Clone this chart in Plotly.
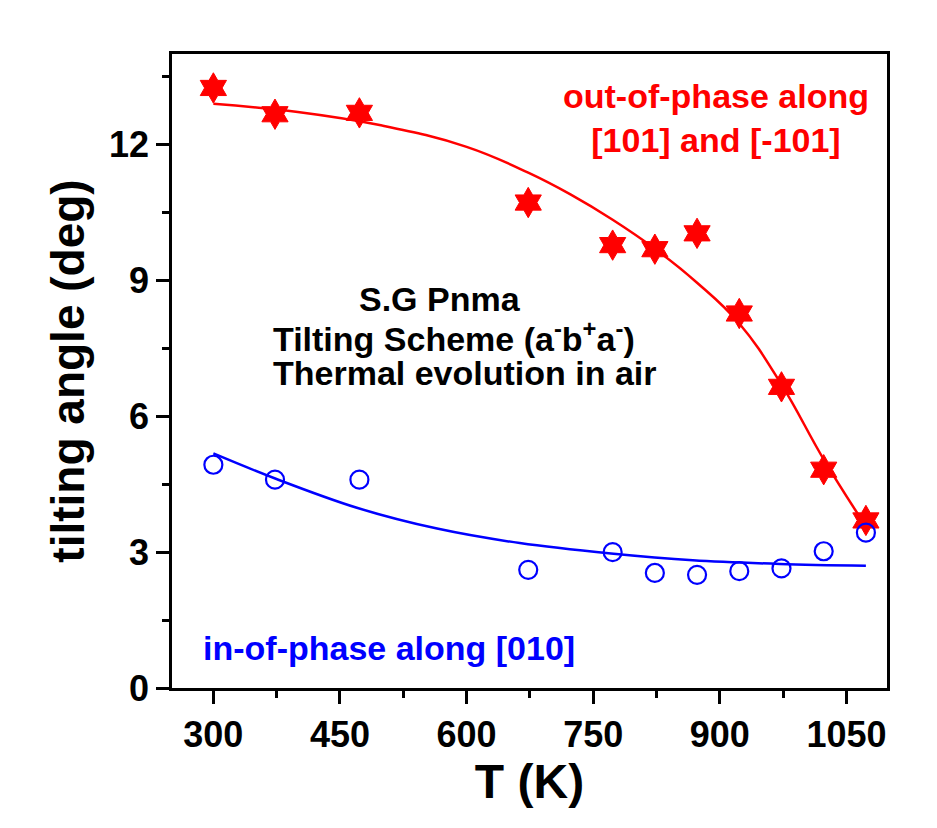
import plotly.graph_objects as go

# Data
T = [300, 373, 473, 673, 773, 823, 873, 923, 973, 1023, 1073]
out_of_phase = [13.25, 12.67, 12.70, 10.72, 9.78, 9.69, 10.04, 8.27, 6.65, 4.82, 3.70]
in_phase = [4.93, 4.60, 4.60, 2.61, 3.00, 2.54, 2.50, 2.58, 2.64, 3.02, 3.43]

red_fit_T = [300, 400, 500, 600, 673, 723, 773, 823, 873, 923, 973, 1023, 1073]
red_fit = [12.90, 12.72, 12.42, 11.95, 11.38, 10.90, 10.34, 9.70, 8.95, 8.05, 6.70, 5.05, 3.57]

blue_fit_T = [300, 374, 470, 565, 663, 771, 868, 971, 1073]
blue_fit = [5.18, 4.62, 3.98, 3.52, 3.20, 2.97, 2.82, 2.74, 2.70]

x_ticks = [300, 450, 600, 750, 900, 1050]
y_ticks = [0, 3, 6, 9, 12]

FONT = "Liberation Sans, Arial, sans-serif"
RED = "#ff0000"
BLUE = "#0000ff"

fig = go.Figure()
fig.add_trace(go.Scatter(x=red_fit_T, y=red_fit, mode="lines",
                         line=dict(color=RED, width=2.5, shape="spline", smoothing=1.2),
                         showlegend=False, hoverinfo="skip"))
fig.add_trace(go.Scatter(x=blue_fit_T, y=blue_fit, mode="lines", line=dict(color=BLUE, width=2.5, shape="spline"),
                         showlegend=False, hoverinfo="skip"))
fig.add_trace(go.Scatter(x=T, y=out_of_phase, mode="markers",
                         marker=dict(symbol="hexagram", size=23, color=RED, line=dict(color=RED, width=1)),
                         showlegend=False))
fig.add_trace(go.Scatter(x=T, y=in_phase, mode="markers",
                         marker=dict(symbol="circle-open", size=18, color=BLUE, line=dict(color=BLUE, width=2.2)),
                         showlegend=False))

axis_common = dict(showgrid=False, zeroline=False, showline=True, linecolor="black", linewidth=2.5,
                   mirror=True, ticks="outside", tickcolor="black", tickwidth=2.5, ticklen=13,
                   tickfont=dict(family=FONT, size=36, color="black", weight="bold"))

fig.update_xaxes(range=[251, 1098], tickvals=x_ticks, ticktext=[str(v) for v in x_ticks],
                 minor=dict(ticks="outside", ticklen=7, tickwidth=2.5, tickcolor="black", dtick=75, tick0=300),
                 title=dict(text="T (K)", font=dict(family=FONT, size=48, color="black", weight="bold"), standoff=2),
                 **axis_common)
fig.update_yaxes(range=[0, 14], tickvals=y_ticks, ticktext=[str(v) for v in y_ticks],
                 minor=dict(ticks="outside", ticklen=7, tickwidth=2.5, tickcolor="black", dtick=1.5, tick0=0),
                 title=dict(text="tilting angle (deg)", font=dict(family=FONT, size=46, color="black", weight="bold"), standoff=10),
                 **axis_common)

# pixel -> data helpers for placing the text labels
def tx(px):
    return 300 + (px - 213.3) / 0.8447

def ty(py):
    return (688 - py) / 45.24

ann_font = lambda c: dict(family=FONT, size=34, color=c, weight="bold")
fig.add_annotation(x=tx(716), y=ty(118.5), xref="x", yref="y", text="out-of-phase along<br>[101] and [-101]",
                   showarrow=False, align="center", font=ann_font(RED), xanchor="center", yanchor="middle")
fig.add_annotation(x=tx(440), y=ty(299), xref="x", yref="y", text="S.G Pnma",
                   showarrow=False, font=ann_font("black"), xanchor="center", yanchor="middle")
fig.add_annotation(x=tx(271), y=ty(337), xref="x", yref="y",
                   text="Tilting Scheme (a<sup>-</sup>b<sup>+</sup>a<sup>-</sup>)",
                   showarrow=False, font=ann_font("black"), xanchor="left", yanchor="middle")
fig.add_annotation(x=tx(271), y=ty(373), xref="x", yref="y",
                   text="Thermal evolution in air",
                   showarrow=False, font=ann_font("black"), xanchor="left", yanchor="middle")
fig.add_annotation(x=tx(201), y=ty(648), xref="x", yref="y",
                   text="in-of-phase along [010]",
                   showarrow=False, font=ann_font(BLUE), xanchor="left", yanchor="middle")

fig.update_layout(width=937, height=828, margin=dict(l=172, r=50, t=54, b=140, autoexpand=False),
                  paper_bgcolor="white", plot_bgcolor="white")

fig.write_html("out.html")
